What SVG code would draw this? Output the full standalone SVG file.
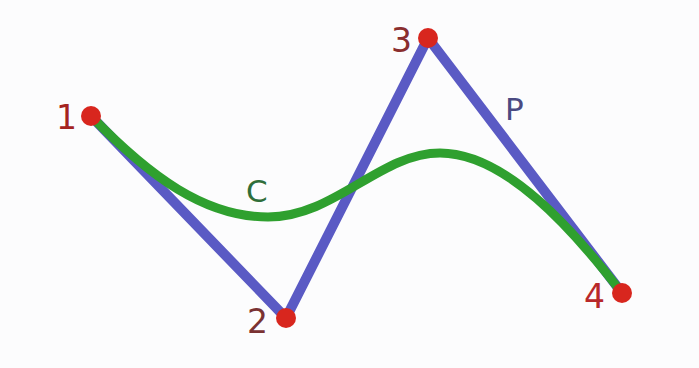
<svg xmlns="http://www.w3.org/2000/svg" width="699" height="368" viewBox="0 0 699 368">
<style>
.lbl{font-family:"DejaVu Sans",Verdana,sans-serif;font-size:33px;text-anchor:end}
.pt{fill:#d8261e}
.cl{font-family:"DejaVu Sans",Verdana,sans-serif;font-size:31px}
</style>
<rect width="699" height="368" fill="#fcfcfd"/>
<g id="connectors">
<polyline id="P-polygon" points="91,116 286,318 428,38 622,293" fill="none" stroke="#5a5ac4" stroke-width="10" stroke-linejoin="round"/>
<path id="C-curve" d="M91,116 C150,177 205,217 268,217 C335,217 380,153 440,153 C505,153 572,228 622,293" fill="none" stroke="#2fa02f" stroke-width="9" stroke-linecap="round"/>
</g>
<g id="node1"><circle class="pt" cx="91" cy="116" r="10"/><text class="lbl" x="77" y="129" fill="#a5231f">1</text></g>
<g id="node2"><circle class="pt" cx="286" cy="318" r="10"/><text class="lbl" x="268" y="333" fill="#7a3232">2</text></g>
<g id="node3"><circle class="pt" cx="428" cy="38" r="10"/><text class="lbl" x="412" y="52" fill="#8a2e2e">3</text></g>
<g id="node4"><circle class="pt" cx="622" cy="293" r="10"/><text class="lbl" x="605" y="308" fill="#b8282a">4</text></g>
<text id="labelC" class="cl" x="246" y="202" fill="#2f6e3a">C</text>
<text id="labelP" class="cl" x="505" y="120" fill="#4a4a82">P</text>
</svg>
